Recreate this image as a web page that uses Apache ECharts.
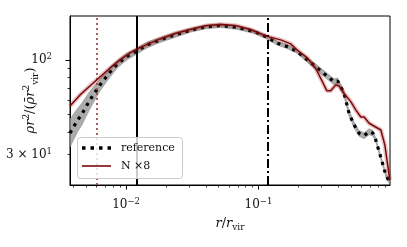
<!DOCTYPE html>
<html><head><meta charset="utf-8">
<script src="https://cdn.jsdelivr.net/npm/echarts@6/dist/echarts.min.js"></script>
<style>html,body{margin:0;padding:0;background:#fff}#c{width:407px;height:247px}</style>
</head><body><div id="c"></div><script>
// reference profile (r / r_vir, rho r^2 / (rhobar r_vir^2)) and its scatter band
const refR    = [0.00377,0.00426,0.00464,0.00533,0.00635,0.00757,0.00870,0.0100,0.0121,0.0144,0.0181,0.0235,0.0305,0.0397,0.0515,0.0690,0.0921,0.113,0.139,0.165,0.196,0.234,0.270,0.322,0.372,0.396,0.442,0.483,0.527,0.575,0.628,0.685,0.731,0.769,0.815,0.865,0.916,0.975];
const refRho  = [39.4,46.0,50.3,60.1,72.9,86.1,96.0,104.3,112.6,121.7,129.7,138.3,146.5,153.1,156.0,152.1,144.5,135.5,124.3,119.0,111.7,100.4,92.1,82.8,76.0,76.7,65.8,50.8,43.8,39.3,38.1,40.1,39.4,36.1,31.1,26.8,23.1,21.1];
const refLow  = [32.9,39.5,43.7,53.6,67.5,80.8,91.3,99.7,108.4,117.1,125.6,133.9,142.8,149.2,152.0,148.2,140.8,132.1,121.1,116.0,108.9,97.2,88.6,79.7,73.1,73.8,63.3,48.9,42.2,37.8,36.7,38.6,37.9,35.2,30.3,26.1,22.5,20.6];
const refHigh = [47.1,53.6,57.9,67.4,78.7,91.8,101.0,109.1,117.0,126.4,134.0,142.9,150.3,157.1,160.1,156.1,148.3,139.0,127.5,122.1,114.6,103.7,95.7,86.0,79.0,79.7,68.4,52.8,45.5,40.8,39.6,41.7,40.9,37.0,31.9,27.5,23.7,21.6];
// N x8 profile
const n8R   = [0.00377,0.00449,0.00533,0.00635,0.00757,0.00901,0.0107,0.0128,0.0181,0.0235,0.0305,0.0397,0.0515,0.0670,0.0869,0.113,0.147,0.175,0.196,0.234,0.270,0.304,0.328,0.351,0.383,0.406,0.442,0.498,0.543,0.593,0.628,0.685,0.840,0.901,0.982];
const n8Rho = [55.7,64.2,72.0,80.7,90.6,100.4,109.8,117.8,131.3,140.8,148.1,155.2,158.1,156.1,148.1,136.5,129.7,123.2,114.0,103.0,90.3,76.0,67.8,67.8,72.9,72.0,65.6,58.9,53.0,48.4,48.4,44.7,41.0,33.8,21.6];
// vertical reference radii
const vLineDotted = 0.0060;
const vLineSolid = 0.01205;
const vLineDashDot = 0.1165;
// axis ranges and ticks
const xRange = [0.00377, 0.985];
const yRange = [20.3, 176];
const xMajorTicks = [0.01, 0.1, 1];
const xTickLabels = ['10{sup|−2}', '10{sup|−1}', '10{sup|0}'];
const xMinorTicks = [0.004,0.005,0.006,0.007,0.008,0.009,0.02,0.03,0.04,0.05,0.06,0.07,0.08,0.09,0.2,0.3,0.4,0.5,0.6,0.7,0.8,0.9];
const yMajorTicks = [100];
const yMinorTicks = [30,40,50,60,70,80,90,200];
const yLabelTicks = [30, 100];
const yTickLabels = ['3 × 10{sup|1}', '10{sup|2}'];
const legendNames = ['reference', 'N ×8'];

const L = Math.log10;
const pts = (xs, ys) => xs.map((x, i) => [L(x), L(ys[i])]);
const findLabel = (v, ticks, labels) => {
  for (let i = 0; i < ticks.length; i++) if (Math.abs(L(ticks[i]) - v) < 1e-6) return labels[i];
  return '';
};
const FONT = 'DejaVu Serif';
const TXT = '#111';
const richSup = {
  sup: {fontFamily: FONT, fontSize: 8.5, lineHeight: 9, verticalAlign: 'top', color: TXT},
  n: {fontFamily: FONT, fontSize: 12, lineHeight: 15, color: TXT}
};
const xmin = L(xRange[0]), xmax = L(xRange[1]), ymin = L(yRange[0]), ymax = L(yRange[1]);
const G = {left: 70, top: 16, width: 320, height: 169};

const chart = echarts.init(document.getElementById('c'), null, {renderer: 'canvas'});
chart.setOption({
  animation: false,
  backgroundColor: '#fff',
  grid: {left: G.left, top: G.top, width: G.width, height: G.height, show: true, borderColor: '#000', borderWidth: 1, backgroundColor: 'transparent'},
  graphic: [
    {type: 'rect', z: 100, left: 77, top: 137, shape: {width: 105, height: 41, r: 3},
     style: {fill: 'rgba(255,255,255,0.8)', stroke: '#cccccc', lineWidth: 1}},
    {type: 'line', z: 101, shape: {x1: 82, y1: 148, x2: 111, y2: 148},
     style: {stroke: '#000', lineWidth: 3.5, lineDash: [3.5, 5], lineCap: 'butt'}},
    {type: 'line', z: 101, shape: {x1: 82, y1: 166, x2: 111, y2: 166},
     style: {stroke: '#7a0a0a', lineWidth: 1.6}},
    {type: 'text', z: 101, x: 121, y: 148,
     style: {text: legendNames[0], font: '11px "DejaVu Serif"', fill: TXT, verticalAlign: 'middle'}},
    {type: 'text', z: 101, x: 121, y: 166,
     style: {text: legendNames[1], font: '11px "DejaVu Serif"', fill: TXT, verticalAlign: 'middle'}}
  ],
  xAxis: [
    {type: 'value', min: xmin, max: xmax, gridIndex: 0,
     name: '{i|r}{n|/}{i|r}{sub|vir}', nameLocation: 'middle', nameGap: 31, nameMoveOverlap: false,
     nameTextStyle: {rich: {
       i: {fontFamily: FONT, fontStyle: 'italic', fontSize: 13, lineHeight: 16, color: TXT},
       n: {fontFamily: FONT, fontSize: 13, lineHeight: 16, color: TXT},
       sub: {fontFamily: FONT, fontSize: 9, lineHeight: 9, verticalAlign: 'bottom', color: TXT}}},
     axisLine: {show: true, onZero: false, lineStyle: {color: '#000', width: 1}},
     axisTick: {show: true, length: 4.5, lineStyle: {color: '#000', width: 1}, customValues: xMajorTicks.map(L)},
     axisLabel: {show: true, margin: 12, customValues: xMajorTicks.map(L), color: TXT,
       formatter: v => '{n|' + findLabel(v, xMajorTicks, xTickLabels).replace('{sup|', '}{sup|'),
       rich: richSup},
     splitLine: {show: false}},
    {type: 'value', min: xmin, max: xmax, gridIndex: 0, position: 'bottom',
     axisLine: {show: false, onZero: false},
     axisTick: {show: true, length: 2.5, lineStyle: {color: '#000', width: 0.8}, customValues: xMinorTicks.map(L)},
     axisLabel: {show: false}, splitLine: {show: false}}
  ],
  yAxis: [
    {type: 'value', min: ymin, max: ymax, gridIndex: 0,
     name: '{i|ρr}{sup|2}{n|/(}{i|ρ̄r}{sup|2}{sub|vir}{n|)}', nameLocation: 'middle', nameGap: 30, nameMoveOverlap: false,
     nameTextStyle: {rich: {
       i: {fontFamily: FONT, fontStyle: 'italic', fontSize: 13, lineHeight: 18, color: TXT},
       n: {fontFamily: FONT, fontSize: 13, lineHeight: 18, color: TXT},
       sup: {fontFamily: FONT, fontSize: 9, lineHeight: 9, verticalAlign: 'top', color: TXT},
       sub: {fontFamily: FONT, fontSize: 9, lineHeight: 9, verticalAlign: 'bottom', color: TXT}}},
     axisLine: {show: true, onZero: false, lineStyle: {color: '#000', width: 1}},
     axisTick: {show: true, length: 4.5, lineStyle: {color: '#000', width: 1}, customValues: yMajorTicks.map(L)},
     axisLabel: {show: true, margin: 18, customValues: yLabelTicks.map(L), color: TXT,
       formatter: v => '{n|' + findLabel(v, yLabelTicks, yTickLabels).replace('{sup|', '}{sup|'),
       rich: richSup},
     splitLine: {show: false}},
    {type: 'value', min: ymin, max: ymax, gridIndex: 0, position: 'left',
     axisLine: {show: false, onZero: false},
     axisTick: {show: true, length: 2.5, lineStyle: {color: '#000', width: 0.8}, customValues: yMinorTicks.map(L)},
     axisLabel: {show: false}, splitLine: {show: false}}
  ],
  series: [
    {name: 'refBand', type: 'custom', silent: true, z: 1,
     data: refR.map((x, i) => [L(x), L(refLow[i]), L(refHigh[i])]),
     encode: {x: 0, y: [1, 2]},
     renderItem: (params, api) => {
       if (params.dataIndex !== 0) return null;
       const upper = refR.map((x, i) => api.coord([L(x), L(refHigh[i])]));
       const lower = refR.map((x, i) => api.coord([L(x), L(refLow[i])])).reverse();
       return {type: 'polygon', shape: {points: upper.concat(lower)},
               style: {fill: 'rgba(150,150,150,0.8)', stroke: 'rgba(120,120,120,0.7)', lineWidth: 0.6}};
     }},
    {name: 'reference', type: 'line', symbol: 'none', z: 3,
     lineStyle: {color: '#000', width: 3.2, type: [3.2, 4.8], cap: 'butt'},
     data: pts(refR, refRho)},
    {name: 'n8band', type: 'line', symbol: 'none', silent: true, z: 4,
     lineStyle: {color: 'rgba(180,40,40,0.28)', width: 4.5},
     data: pts(n8R, n8Rho)},
    {name: 'N ×8', type: 'line', symbol: 'none', z: 5,
     lineStyle: {color: '#7a0a0a', width: 1.5},
     data: pts(n8R, n8Rho),
     markLine: {
       silent: true, symbol: ['none', 'none'], label: {show: false}, animation: false,
       data: [
         {xAxis: L(vLineDotted), lineStyle: {color: '#a24e4e', width: 1.8, type: [2, 3]}},
         {xAxis: L(vLineSolid), lineStyle: {color: '#000', width: 2, type: 'solid'}},
         {xAxis: L(vLineDashDot), lineStyle: {color: '#000', width: 2, type: [9, 3, 2, 3]}}
       ]
     }}
  ]
});
</script></body></html>
